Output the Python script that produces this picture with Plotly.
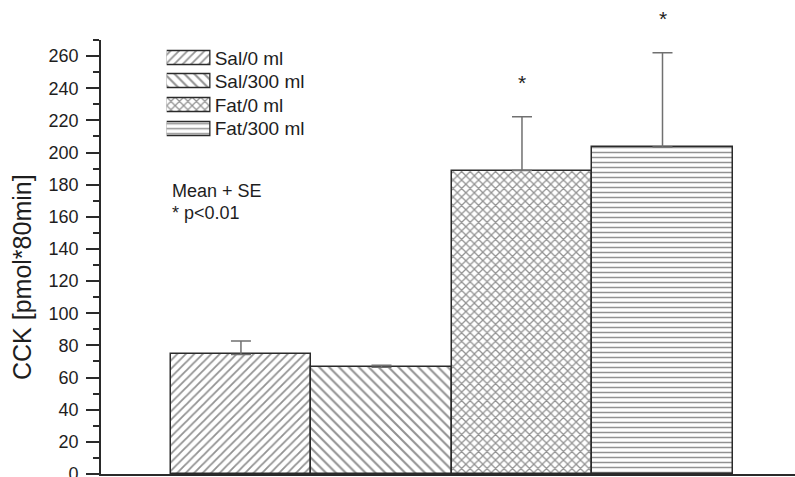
import plotly.graph_objects as go

# ---- data ----
groups = ["Sal/0 ml", "Sal/300 ml", "Fat/0 ml", "Fat/300 ml"]
cck_mean = [74.4, 66.4, 188.8, 203.4]
cck_se = [8.3, 1.3, 33.4, 58.7]
significant = [False, False, True, True]
y_ticks = list(range(0, 261, 20))

# ---- styling ----
patterns = ["/", "\\", "x", "-"]
pattern_sizes = [6, 7, 6, 5]
pattern_solidity = [0.3, 0.3, 0.38, 0.3]
FONT = "Liberation Sans, Arial, sans-serif"
INK = "#1e1e1e"
OUTLINE = "#2a2a2a"
HATCH = dict(fgcolor="#262626", bgcolor="white", fillmode="overlay")
Y_MAX = 270
STAR_GAP = 21.5

W, H = 795, 477
PL, PR, PT, PB = 101, 795, 40, 474  # plot-area pixel box


def px_x(px):
    return (px - PL) / (PR - PL)


def px_y(py):
    return (PB - py) / (PB - PT)


fig = go.Figure()

# main bars with one-sided (upper) error bars
fig.add_trace(go.Bar(
    x=groups,
    y=cck_mean,
    marker=dict(
        color="white",
        line=dict(color=OUTLINE, width=1.5),
        pattern=dict(shape=patterns, size=pattern_sizes,
                     solidity=pattern_solidity, **HATCH),
    ),
    error_y=dict(type="data", symmetric=False, array=cck_se,
                 arrayminus=[0] * len(cck_se),
                 color="#707070", thickness=1.5, width=10),
    showlegend=False,
    hoverinfo="skip",
))

# legend key: patterned swatches on a small inset axis, names as tick labels
fig.add_trace(go.Bar(
    y=groups,
    x=[1] * len(groups),
    orientation="h",
    width=0.6,
    marker=dict(
        color="white",
        line=dict(color=OUTLINE, width=1.5),
        pattern=dict(shape=patterns, size=pattern_sizes,
                     solidity=pattern_solidity, **HATCH),
    ),
    xaxis="x2", yaxis="y2",
    showlegend=False, hoverinfo="skip",
))

# significance stars above the error bars (paper y so they may sit above the frame)
star_notes = [
    dict(text="*", x=g, y=(m + e + STAR_GAP) / Y_MAX, xref="x", yref="paper",
         showarrow=False, xanchor="center", yanchor="middle",
         font=dict(family=FONT, size=21, color=INK))
    for g, m, e, s in zip(groups, cck_mean, cck_se, significant) if s
]

fig.update_layout(
    width=W, height=H, autosize=False,
    margin=dict(l=PL, r=W - PR, t=PT, b=H - PB, pad=0),
    paper_bgcolor="white", plot_bgcolor="white",
    bargap=0,
    font=dict(family=FONT, color=INK),
    xaxis=dict(
        type="category", categoryorder="array", categoryarray=groups,
        range=[-0.996, 3.943], automargin=False,
        showline=True, linecolor=OUTLINE, linewidth=1.6,
        showticklabels=False, ticks="", showgrid=False, zeroline=False,
    ),
    yaxis=dict(
        range=[0, Y_MAX], automargin=False,
        tickvals=y_ticks,
        ticks="outside", ticklen=13, tickwidth=1.5, tickcolor=OUTLINE,
        minor=dict(dtick=10, ticks="outside", ticklen=6, tickwidth=1.5,
                   tickcolor=OUTLINE),
        showline=True, linecolor=OUTLINE, linewidth=1.6,
        showgrid=False, zeroline=False,
        tickfont=dict(family=FONT, size=18, color=INK),
        ticklabelstandoff=4, ticklabeloverflow="allow",
    ),
    xaxis2=dict(
        domain=[px_x(166.7), px_x(210.7)], range=[0, 1], anchor="y2",
        showticklabels=False, ticks="", showgrid=False, zeroline=False,
        showline=False, fixedrange=True, automargin=False,
    ),
    yaxis2=dict(
        domain=[px_y(140.6), px_y(46.2)], anchor="x2", side="right",
        type="category", categoryorder="array", categoryarray=groups,
        range=[3.5, -0.5], automargin=False,
        ticks="", showgrid=False, zeroline=False, showline=False,
        tickfont=dict(family=FONT, size=19, color=INK),
        ticklabelstandoff=3, fixedrange=True,
    ),
    annotations=star_notes + [
        dict(text="CCK [pmol*80min]", textangle=-90,
             xref="paper", yref="paper", x=px_x(22), y=px_y(277),
             xanchor="center", yanchor="middle", showarrow=False,
             font=dict(family=FONT, size=25, color=INK)),
        dict(text="Mean + SE", xref="paper", yref="paper",
             x=px_x(170), y=px_y(190.5), xanchor="left", yanchor="middle",
             showarrow=False, font=dict(family=FONT, size=18, color=INK)),
        dict(text="* p<0.01", xref="paper", yref="paper",
             x=px_x(170), y=px_y(213), xanchor="left", yanchor="middle",
             showarrow=False, font=dict(family=FONT, size=18, color=INK)),
    ],
)

fig.write_html("out.html")
